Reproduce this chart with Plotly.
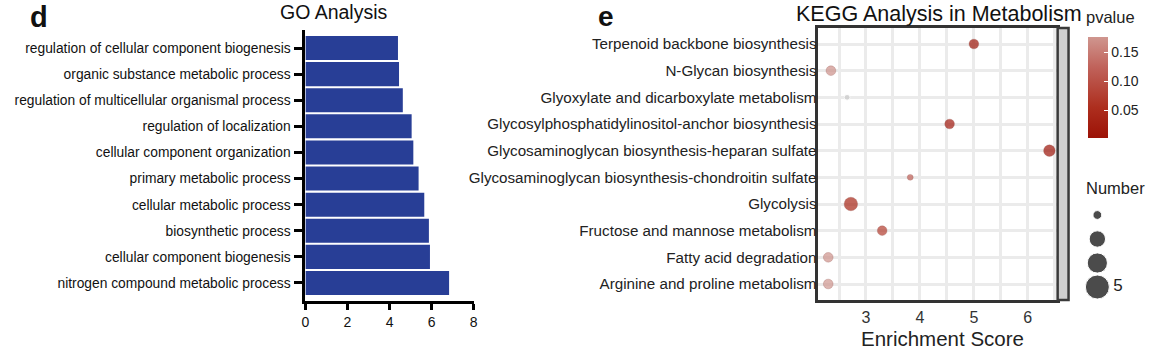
import plotly.graph_objects as go

# ---------------- data ----------------
go_terms = [
    "regulation of cellular component biogenesis",
    "organic substance metabolic process",
    "regulation of multicellular organismal process",
    "regulation of localization",
    "cellular component organization",
    "primary metabolic process",
    "cellular metabolic process",
    "biosynthetic process",
    "cellular component biogenesis",
    "nitrogen compound metabolic process",
]
go_values = [4.4, 4.45, 4.63, 5.05, 5.13, 5.38, 5.65, 5.87, 5.92, 6.83]
go_ticks = [0, 2, 4, 6, 8]

kegg_terms = [
    "Terpenoid backbone biosynthesis",
    "N-Glycan biosynthesis",
    "Glyoxylate and dicarboxylate metabolism",
    "Glycosylphosphatidylinositol-anchor biosynthesis",
    "Glycosaminoglycan biosynthesis-heparan sulfate",
    "Glycosaminoglycan biosynthesis-chondroitin sulfate",
    "Glycolysis",
    "Fructose and mannose metabolism",
    "Fatty acid degradation",
    "Arginine and proline metabolism",
]
kegg_score = [5.0, 2.35, 2.65, 4.55, 6.4, 3.82, 2.72, 3.3, 2.3, 2.3]
kegg_pvalue = [0.010, 0.170, None, 0.015, 0.003, 0.120, 0.040, 0.075, 0.172, 0.176]
kegg_number = [3, 3, 1, 3, 4, 1, 5, 3, 3, 3]
kegg_ticks = [3, 4, 5, 6]
pvalue_ticks = [0.05, 0.10, 0.15]
number_legend = [1, 3, 4, 5]
number_legend_labels = ["", "", "", "5"]

# ---------------- layout helpers ----------------
W, H = 1151, 354
FONT = "Liberation Sans, Arial, sans-serif"


def px(x):
    return x / W


def py(y):
    return 1 - y / H


def dot_size(n):
    return 4 + 1.9 * n


def legend_size(n):
    return 5 + 3.8 * n


def note(text, x, y, size, color="#111", xanchor="center"):
    return dict(text=text, x=px(x), y=py(y), xref="paper", yref="paper",
                xanchor=xanchor, yanchor="middle", showarrow=False,
                font=dict(family=FONT, size=size, color=color))


fig = go.Figure()

# ---------------- GO bar chart ----------------
fig.add_trace(go.Bar(
    x=go_values, y=go_terms, orientation="h",
    marker=dict(color="#283e96", line=dict(width=0)),
    xaxis="x", yaxis="y", showlegend=False,
))

# ---------------- KEGG dot plot ----------------
idx_ok = [i for i, p in enumerate(kegg_pvalue) if p is not None]
idx_na = [i for i, p in enumerate(kegg_pvalue) if p is None]
pv_ok = [kegg_pvalue[i] for i in idx_ok]

fig.add_trace(go.Scatter(
    x=[kegg_score[i] for i in idx_na], y=[kegg_terms[i] for i in idx_na],
    mode="markers",
    marker=dict(size=[dot_size(kegg_number[i]) for i in idx_na], color="#c9c9c9"),
    xaxis="x2", yaxis="y2", showlegend=False,
))
fig.add_trace(go.Scatter(
    x=[kegg_score[i] for i in idx_ok], y=[kegg_terms[i] for i in idx_ok],
    mode="markers",
    marker=dict(
        size=[dot_size(kegg_number[i]) for i in idx_ok],
        color=pv_ok, cmin=min(pv_ok), cmax=max(pv_ok),
        colorscale=[[0, "#9c1206"], [0.3, "#ad2e1e"], [0.7, "#c0625a"], [1, "#cf968f"]],
        line=dict(width=0.8, color="rgba(110,20,10,0.35)"),
        showscale=True,
        colorbar=dict(
            x=px(1092), xanchor="left", y=py(37), yanchor="top",
            thickness=20, thicknessmode="pixels", len=101, lenmode="pixels",
            outlinewidth=0, xpad=0, ypad=0,
            tickvals=pvalue_ticks, ticktext=[f"{v:.2f}" for v in pvalue_ticks],
            ticks="inside", tickcolor="white", ticklen=4, tickwidth=1,
            tickfont=dict(family=FONT, size=14, color="#222"),
        ),
    ),
    xaxis="x2", yaxis="y2", showlegend=False,
))

# size legend
fig.add_trace(go.Scatter(
    x=[0] * len(number_legend), y=list(range(len(number_legend))),
    mode="markers+text", text=number_legend_labels, textposition="middle right",
    textfont=dict(family=FONT, size=17, color="#222"),
    marker=dict(size=[legend_size(n) for n in number_legend], color="black"),
    xaxis="x3", yaxis="y3", showlegend=False, cliponaxis=False,
))

fig.update_layout(
    width=W, height=H,
    margin=dict(l=0, r=0, t=0, b=0),
    paper_bgcolor="white", plot_bgcolor="white",
    font=dict(family=FONT, color="#222"),
    bargap=0.08,
    xaxis=dict(
        domain=[px(303.5), px(473)], range=[0, 8], tickvals=go_ticks,
        showline=True, linecolor="black", linewidth=3,
        ticks="outside", ticklen=6, tickwidth=3, tickcolor="black",
        showgrid=False, zeroline=False,
        tickfont=dict(family=FONT, size=14, color="#111"),
        anchor="y",
    ),
    yaxis=dict(
        domain=[py(301), py(30)], range=[9.69, -0.69],
        categoryorder="array", categoryarray=go_terms,
        showline=True, linecolor="black", linewidth=3,
        ticks="outside", ticklen=8, tickwidth=3, tickcolor="black",
        ticklabelstandoff=1,
        showgrid=False, zeroline=False,
        tickfont=dict(family=FONT, size=13.8, color="#111"),
        anchor="x",
    ),
    xaxis2=dict(
        domain=[px(820), px(1060)], range=[2.116, 6.534], tickvals=kegg_ticks,
        showline=True, mirror=True, linecolor="#333", linewidth=2.5,
        ticks="", ticklabelstandoff=1,
        showgrid=True, gridcolor="#ebebeb", gridwidth=3,
        minor=dict(dtick=0.5, showgrid=True, gridcolor="#ebebeb", gridwidth=3),
        zeroline=False,
        tickfont=dict(family=FONT, size=16, color="#333"),
        anchor="y2",
    ),
    yaxis2=dict(
        domain=[py(300), py(28)], range=[9.6, -0.6],
        categoryorder="array", categoryarray=kegg_terms,
        showline=True, mirror=True, linecolor="#333", linewidth=2.5,
        ticks="", ticklabelstandoff=-4,
        showgrid=True, gridcolor="#ebebeb", gridwidth=3,
        zeroline=False,
        tickfont=dict(family=FONT, size=15.2, color="#222"),
        anchor="x2",
    ),
    xaxis3=dict(domain=[px(1089), px(1113)], range=[-1, 1], visible=False, anchor="y3"),
    yaxis3=dict(domain=[py(299), py(203)], range=[3.5, -0.5], visible=False, anchor="x3"),
    shapes=[
        dict(type="rect", xref="paper", yref="paper",
             x0=px(1061), x1=px(1072), y0=py(300), y1=py(28),
             fillcolor="#cfcfcf", line=dict(color="#3a3a3a", width=2.5), layer="above"),
    ],
    annotations=[
        note("<b>d</b>", 35, 17, 29),
        note("<b>e</b>", 606, 16, 28),
        note("GO Analysis", 332, 12, 19.5),
        note("KEGG Analysis in Metabolism", 942, 14, 21.5),
        note("Enrichment Score", 945, 338, 20.5, "#222"),
        note("pvalue", 1088, 17, 16.5, "#222", "left"),
        note("Number", 1088, 188, 16.5, "#222", "left"),
    ],
)

fig.write_html("out.html")
